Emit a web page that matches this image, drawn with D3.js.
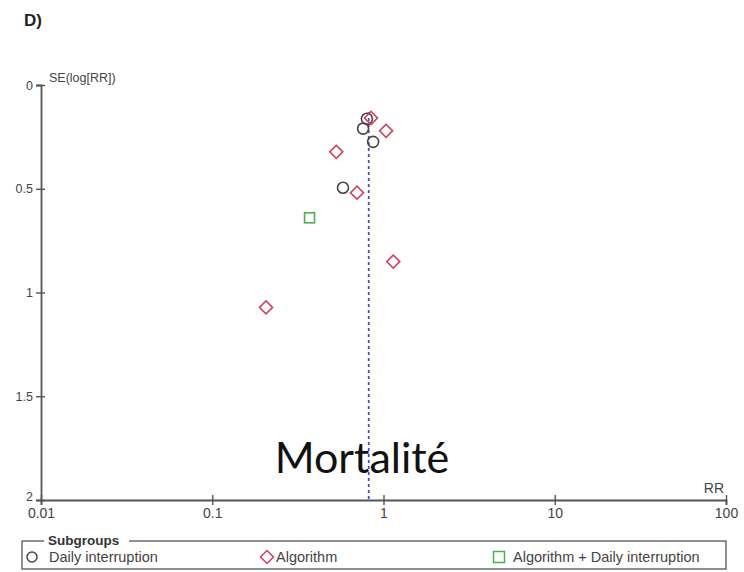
<!DOCTYPE html>
<html>
<head>
<meta charset="utf-8">
<script src="https://cdn.jsdelivr.net/npm/d3@7"></script>
<style>
  body { margin: 0; background: #fff; }
  svg { display: block; }
</style>
</head>
<body>
<svg width="744" height="572"></svg>
<script>
// funnel plot data (RR on log scale, SE of log RR)
const dailyRR = [0.80, 0.76, 0.87, 0.58];
const dailySE = [0.163, 0.21, 0.274, 0.495];
const algoRR = [0.845, 1.035, 0.53, 0.70, 1.14, 0.206];
const algoSE = [0.159, 0.221, 0.322, 0.519, 0.851, 1.072];
const comboRR = [0.37];
const comboSE = [0.64];
const pooledRR = 0.82;
const xTicks = [0.01, 0.1, 1, 10, 100];
const yTicks = [0, 0.5, 1, 1.5, 2];
const legendLabels = ["Daily interruption", "Algorithm", "Algorithm + Daily interruption"];

const svg = d3.select("svg");
const font = "'Liberation Sans', Arial, sans-serif";

const x = d3.scaleLog().domain([0.01, 100]).range([41, 726]);
const y = d3.scaleLinear().domain([0, 2]).range([85, 500]);

// panel letter
svg.append("text").attr("x", 24).attr("y", 26)
  .attr("font-family", font).attr("font-weight", "bold").attr("font-size", 17)
  .attr("fill", "#222").text("D)");

// y axis
const yAxis = d3.axisLeft(y).tickValues(yTicks).tickFormat(d3.format("")).tickSize(5).tickPadding(3);
const gy = svg.append("g").attr("transform", "translate(41,0)").call(yAxis);
gy.select(".domain").attr("stroke", "#555").attr("stroke-width", 1.8);
gy.selectAll(".tick line").attr("stroke", "#555").attr("x2", 4).attr("x1", -5).attr("stroke-width", 1.4);
gy.selectAll(".tick text").attr("font-family", font).attr("font-size", 12.5).attr("fill", "#444")
  .attr("x", -8).attr("dy", d => d === 2 ? "0" : "0.32em");

// x axis
const xAxis = d3.axisBottom(x).tickValues(xTicks).tickFormat(d3.format("")).tickSize(5).tickPadding(3);
const gx = svg.append("g").attr("transform", "translate(0,500)").call(xAxis);
gx.select(".domain").attr("stroke", "#555").attr("stroke-width", 1.8);
gx.selectAll(".tick line").attr("stroke", "#555").attr("y1", -5).attr("y2", 5).attr("stroke-width", 1.4);
gx.selectAll(".tick text").attr("font-family", font).attr("font-size", 14).attr("fill", "#444");

svg.append("text").attr("x", 49).attr("y", 82)
  .attr("font-family", font).attr("font-size", 12.5).attr("fill", "#444").text("SE(log[RR])");
svg.append("text").attr("x", 724).attr("y", 493).attr("text-anchor", "end")
  .attr("font-family", font).attr("font-size", 14).attr("fill", "#444").text("RR");

// pooled estimate line
svg.append("line")
  .attr("x1", x(pooledRR)).attr("x2", x(pooledRR))
  .attr("y1", y(0.13)).attr("y2", y(2))
  .attr("stroke", "#4a4ae0").attr("stroke-width", 1.8).attr("stroke-dasharray", "3,3");

// markers
const circleColor = "#444", diamondColor = "#d0405e", squareColor = "#4caf50";
const pts = g => g.attr("fill", "none").attr("stroke-width", 1.6);

svg.append("g").call(pts).selectAll("circle")
  .data(d3.zip(dailyRR, dailySE)).join("circle")
  .attr("cx", d => x(d[0])).attr("cy", d => y(d[1])).attr("r", 5.5)
  .attr("stroke", circleColor);

const diamond = d3.symbol().type(d3.symbolSquare).size(85);
svg.append("g").call(pts).selectAll("path")
  .data(d3.zip(algoRR, algoSE)).join("path")
  .attr("d", diamond)
  .attr("transform", d => `translate(${x(d[0])},${y(d[1])}) rotate(45)`)
  .attr("stroke", diamondColor);

svg.append("g").call(pts).selectAll("rect")
  .data(d3.zip(comboRR, comboSE)).join("rect")
  .attr("x", d => x(d[0]) - 5).attr("y", d => y(d[1]) - 5)
  .attr("width", 10).attr("height", 10)
  .attr("stroke", squareColor);

// big overlay label
svg.append("text").attr("x", 362).attr("y", 473).attr("text-anchor", "middle")
  .attr("font-family", "Lato, 'Open Sans', sans-serif").attr("font-size", 43)
  .attr("fill", "#111").text("Mortalité");

// legend
const lg = svg.append("g");
lg.append("rect").attr("x", 22).attr("y", 541).attr("width", 704).attr("height", 28)
  .attr("fill", "none").attr("stroke", "#555").attr("stroke-width", 1.3);
lg.append("rect").attr("x", 44).attr("y", 533).attr("width", 85).attr("height", 14).attr("fill", "#fff");
lg.append("text").attr("x", 48).attr("y", 545)
  .attr("font-family", font).attr("font-weight", "bold").attr("font-size", 13.5)
  .attr("fill", "#333").text("Subgroups");

const legendX = [32, 267, 499];
lg.append("circle").attr("cx", legendX[0]).attr("cy", 557).attr("r", 5)
  .attr("fill", "none").attr("stroke", circleColor).attr("stroke-width", 1.5);
lg.append("path").attr("d", diamond).attr("transform", `translate(${legendX[1]},557) rotate(45)`)
  .attr("fill", "none").attr("stroke", diamondColor).attr("stroke-width", 1.5);
lg.append("rect").attr("x", legendX[2] - 5.5).attr("y", 551.5).attr("width", 11).attr("height", 11)
  .attr("fill", "none").attr("stroke", squareColor).attr("stroke-width", 1.5);
lg.selectAll("text.item").data(legendLabels).join("text").attr("class", "item")
  .attr("x", (d, i) => legendX[i] + [17, 9, 14][i]).attr("y", 562)
  .attr("font-family", font).attr("font-size", 14.5).attr("fill", "#444")
  .text(d => d);
</script>
</body>
</html>
